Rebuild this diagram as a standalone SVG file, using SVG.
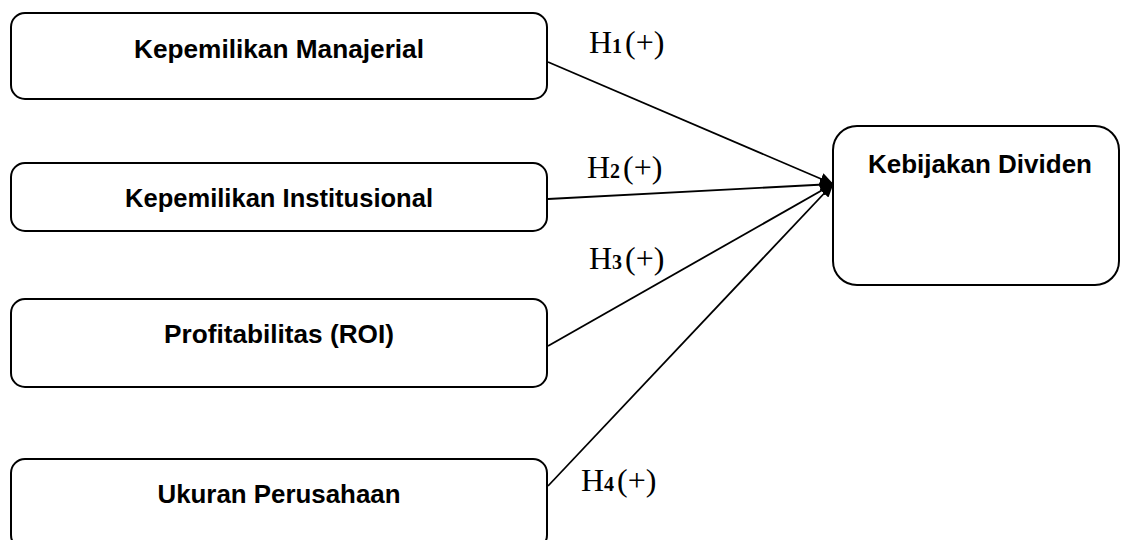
<svg xmlns="http://www.w3.org/2000/svg" width="1121" height="540" viewBox="0 0 1121 540">
  <style>
    .box { fill: #ffffff; stroke: #000000; stroke-width: 2; }
    .lbl { font-family: "Liberation Sans", Arial, sans-serif; font-weight: bold; font-size: 25px; fill: #000000; text-anchor: middle; }
    .hyp { font-family: "Liberation Serif", "Times New Roman", serif; font-size: 32px; fill: #000000; }
    .sub { font-weight: bold; font-size: 20px; }
    .edge { stroke: #000000; stroke-width: 1.8; fill: none; marker-end: url(#arrow); }
  </style>
  <defs>
    <marker id="arrow" markerUnits="userSpaceOnUse" markerWidth="14" markerHeight="12" refX="13" refY="6" orient="auto">
      <path d="M0,0 L14,6 L0,12 Z" fill="#000000"/>
    </marker>
  </defs>
  <rect width="1121" height="540" fill="#ffffff"/>

  <g id="connectors">
    <line class="edge" x1="548" y1="62" x2="833" y2="184"/>
    <line class="edge" x1="548" y1="199" x2="833" y2="184"/>
    <line class="edge" x1="548" y1="346" x2="833" y2="184"/>
    <line class="edge" x1="548" y1="486" x2="833" y2="184"/>
  </g>

  <g id="node-manajerial">
    <rect class="box" x="11" y="13" width="536" height="86" rx="14" ry="14"/>
    <text class="lbl" x="279" y="58" textLength="290" lengthAdjust="spacingAndGlyphs">Kepemilikan Manajerial</text>
  </g>
  <g id="node-institusional">
    <rect class="box" x="11" y="163" width="536" height="68" rx="14" ry="14"/>
    <text class="lbl" x="279" y="207" textLength="308" lengthAdjust="spacingAndGlyphs">Kepemilikan Institusional</text>
  </g>
  <g id="node-profitabilitas">
    <rect class="box" x="11" y="299" width="536" height="88" rx="14" ry="14"/>
    <text class="lbl" x="279" y="343" textLength="230" lengthAdjust="spacingAndGlyphs">Profitabilitas (ROI)</text>
  </g>
  <g id="node-ukuran">
    <rect class="box" x="11" y="459" width="536" height="90" rx="14" ry="14"/>
    <text class="lbl" x="279" y="503" textLength="243" lengthAdjust="spacingAndGlyphs">Ukuran Perusahaan</text>
  </g>
  <g id="node-dividen">
    <rect class="box" x="833" y="126" width="286" height="159" rx="24" ry="24"/>
    <text class="lbl" x="980" y="173" textLength="224" lengthAdjust="spacingAndGlyphs">Kebijakan Dividen</text>
  </g>

  <g id="labels">
    <text class="hyp" x="589" y="53">H<tspan class="sub">1</tspan><tspan x="625">(+)</tspan></text>
    <text class="hyp" x="587" y="178">H<tspan class="sub">2</tspan><tspan x="623">(+)</tspan></text>
    <text class="hyp" x="589" y="269">H<tspan class="sub">3</tspan><tspan x="625">(+)</tspan></text>
    <text class="hyp" x="581" y="491">H<tspan class="sub">4</tspan><tspan x="617">(+)</tspan></text>
  </g>
</svg>
